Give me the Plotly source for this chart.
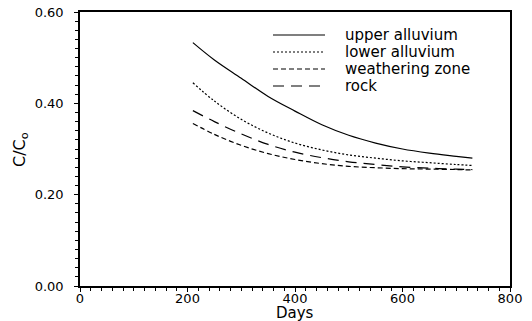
import plotly.graph_objects as go

days = [210, 250, 300, 350, 400, 450, 500, 550, 600, 650, 700, 730]
upper_alluvium = [0.533, 0.495, 0.455, 0.415, 0.383, 0.353, 0.330, 0.313, 0.300, 0.291, 0.284, 0.280]
lower_alluvium = [0.445, 0.405, 0.365, 0.335, 0.313, 0.298, 0.287, 0.280, 0.274, 0.270, 0.266, 0.264]
weathering_zone = [0.356, 0.332, 0.308, 0.290, 0.277, 0.268, 0.262, 0.259, 0.257, 0.256, 0.255, 0.254]
rock = [0.384, 0.360, 0.333, 0.310, 0.293, 0.281, 0.272, 0.266, 0.261, 0.258, 0.256, 0.255]

x_ticks = [0, 200, 400, 600, 800]
y_ticks = [0.0, 0.2, 0.4, 0.6]

series = [
    ("upper alluvium", upper_alluvium, "solid"),
    ("lower alluvium", lower_alluvium, "2px,2px"),
    ("weathering zone", weathering_zone, "5px,3px"),
    ("rock", rock, "11px,7px"),
]

FONT = "DejaVu Sans"
OFF = 8  # page body margin of the browser
W, H = 532 - OFF, 321 - OFF
ML, MR, MT, MB = 72, 22, 4, 35
PW, PH = W - ML - MR, H - MT - MB

def px_x(p):  # screen pixel -> paper fraction
    return (p - OFF - ML) / PW

def px_y(p):
    return 1 - (p - OFF - MT) / PH

fig = go.Figure()
for name, vals, dash in series:
    fig.add_trace(go.Scatter(
        x=days, y=vals, mode="lines", name=name, showlegend=False,
        line=dict(color="black", width=1.2, dash=dash, shape="spline"),
    ))

# hand-made legend (matches the reference's compact spacing)
row_px = [35, 52, 69, 86]
for (name, vals, dash), ry in zip(series, row_px):
    yy = px_y(ry)
    fig.add_shape(type="line", xref="paper", yref="paper",
                  x0=px_x(273), x1=px_x(325), y0=yy, y1=yy,
                  line=dict(color="black", width=1.2, dash=dash))
    fig.add_annotation(xref="paper", yref="paper", x=px_x(343), y=yy,
                       xanchor="left", yanchor="middle", showarrow=False,
                       text=name, font=dict(family=FONT, size=15, color="black"))

# axis titles
fig.add_annotation(xref="paper", yref="paper", x=0.5, y=px_y(313),
                   xanchor="center", yanchor="middle", showarrow=False,
                   text="Days", font=dict(family=FONT, size=15, color="black"))
fig.add_annotation(xref="paper", yref="paper", x=px_x(20), y=px_y(150),
                   xanchor="center", yanchor="middle", showarrow=False, textangle=-90,
                   text="C/C<sub>o</sub>", font=dict(family=FONT, size=16, color="black"))

fig.update_layout(
    width=W, height=H,
    margin=dict(l=ML, r=MR, t=MT, b=MB),
    paper_bgcolor="white", plot_bgcolor="white",
    font=dict(family=FONT, color="black", size=13),
    showlegend=False,
)
fig.update_xaxes(
    range=[0, 800], tickvals=x_ticks, automargin=False, ticklabeloverflow="allow",
    showline=True, linecolor="black", linewidth=1.5, mirror=True,
    ticks="outside", ticklen=4, tickwidth=1.2, tickcolor="black",
    minor=dict(dtick=20, ticks="outside", ticklen=3, tickwidth=1, tickcolor="black"),
    showgrid=False, zeroline=False, tickfont=dict(size=13), ticklabelstandoff=-4,
)
fig.update_yaxes(
    range=[0, 0.6], tickvals=y_ticks, tickformat=".2f", automargin=False,
    ticklabeloverflow="allow",
    showline=True, linecolor="black", linewidth=1.5, mirror=True,
    ticks="outside", ticklen=4, tickwidth=1.2, tickcolor="black",
    minor=dict(dtick=0.02, ticks="outside", ticklen=3, tickwidth=1, tickcolor="black"),
    showgrid=False, zeroline=False, tickfont=dict(size=13), ticklabelstandoff=8,
)

fig.write_html("out.html")
